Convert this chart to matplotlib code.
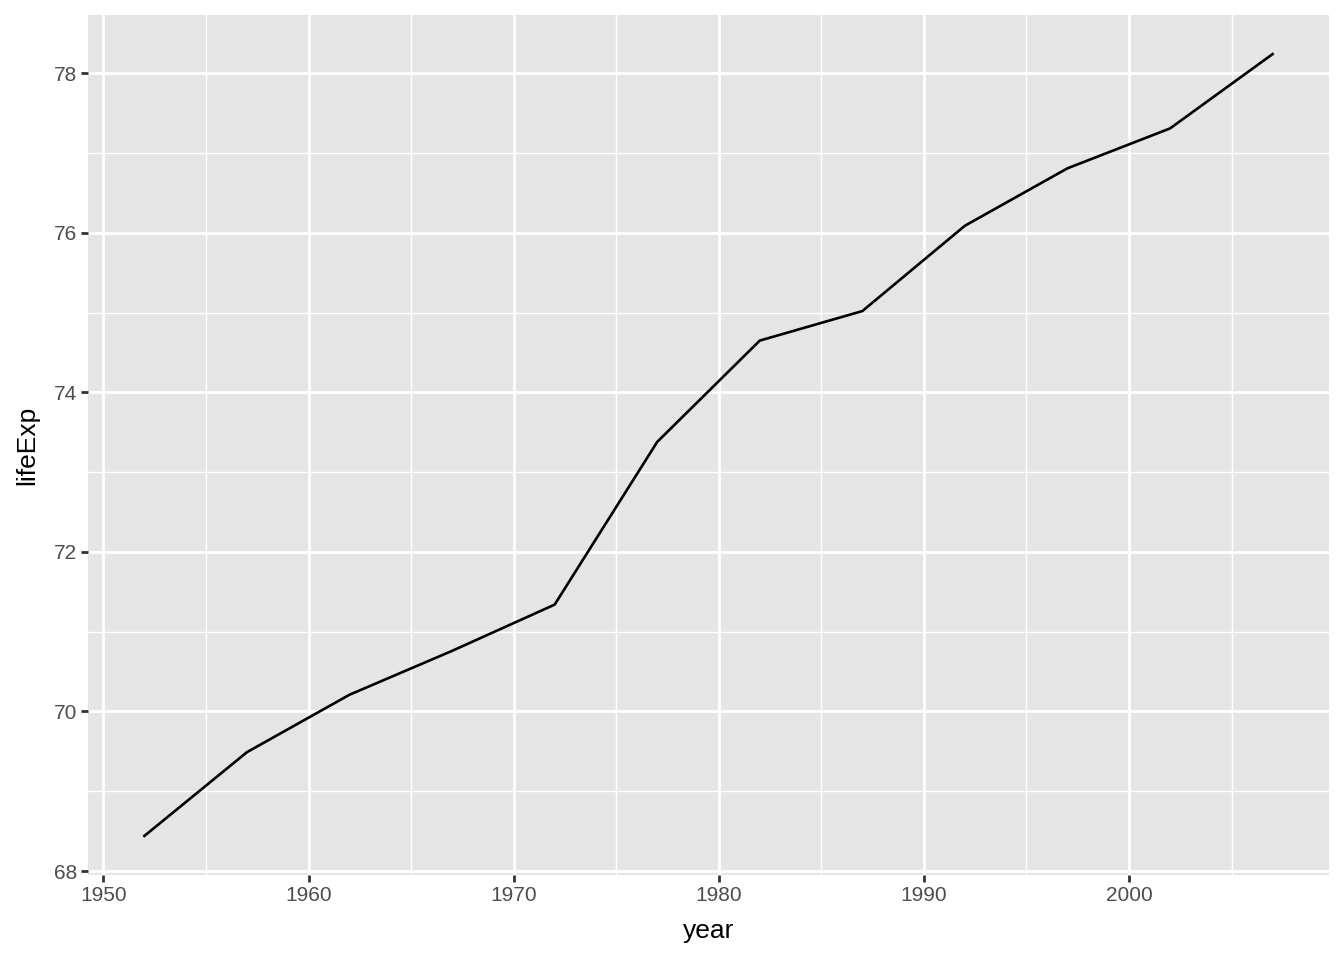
import matplotlib
matplotlib.use("Agg")
import matplotlib.pyplot as plt
from matplotlib.ticker import MultipleLocator

year = [1952, 1957, 1962, 1967, 1972, 1977, 1982, 1987, 1992, 1997, 2002, 2007]
lifeExp = [68.44, 69.49, 70.21, 70.76, 71.34, 73.38, 74.65, 75.02, 76.09, 76.81, 77.31, 78.242]
x_ticks = [1950, 1960, 1970, 1980, 1990, 2000]
y_ticks = [68, 70, 72, 74, 76, 78]

plt.rcParams['font.family'] = ['Liberation Sans', 'DejaVu Sans']
fig = plt.figure(figsize=(13.44, 9.6), dpi=100)
W, H = 1344, 960
l, r, t, b = 88, 1329, 15, 875
ax = fig.add_axes([l / W, 1 - b / H, (r - l) / W, (b - t) / H])
ax.set_facecolor('#E5E5E5')
for s in ax.spines.values():
    s.set_visible(False)

xr = max(year) - min(year)
yr = max(lifeExp) - min(lifeExp)
ax.set_xlim(min(year) - 0.05 * xr, max(year) + 0.05 * xr)
ax.set_ylim(min(lifeExp) - 0.05 * yr, max(lifeExp) + 0.05 * yr)

ax.set_xticks(x_ticks)
ax.set_yticks(y_ticks)
ax.xaxis.set_minor_locator(MultipleLocator(5))
ax.yaxis.set_minor_locator(MultipleLocator(1))
ax.grid(which='major', color='white', linewidth=2.0)
ax.grid(which='minor', color='white', linewidth=1.0)
ax.set_axisbelow(True)
ax.tick_params(which='major', length=5, width=2, color='#333333', labelsize=15, labelcolor='#4D4D4D', pad=3)
ax.tick_params(which='minor', length=0)

ax.plot(year, lifeExp, color='black', linewidth=1.9)

ax.set_xlabel('year', fontsize=19, color='black', labelpad=10)
ax.set_ylabel('lifeExp', fontsize=19, color='black', labelpad=10)

fig.savefig('out.png', dpi=100)
